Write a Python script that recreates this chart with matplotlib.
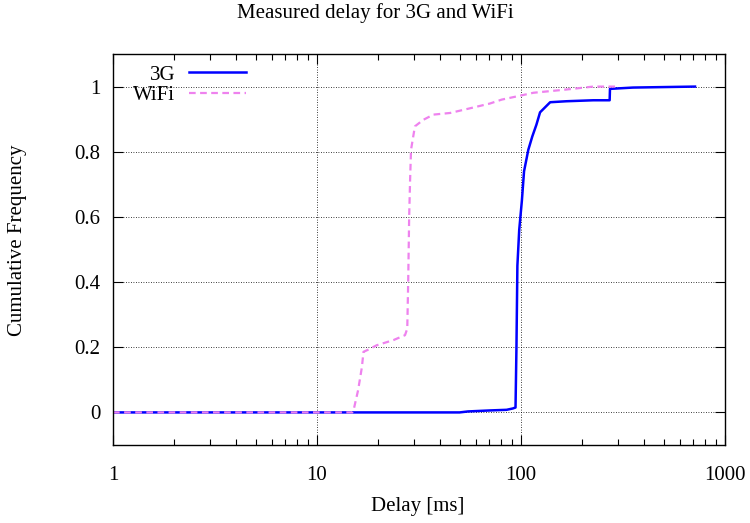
import matplotlib
matplotlib.use("Agg")
import matplotlib.pyplot as plt
from matplotlib.ticker import LogLocator, FixedLocator, NullFormatter

# CDF points (delay in ms, cumulative frequency)
g3_delay = [1, 50, 55, 70, 85, 91, 94, 95, 96, 98, 101, 103.5, 108.6, 113.6,
            119, 124, 139, 167, 226, 272, 273, 354, 713]
g3_cdf = [0, 0, 0.003, 0.006, 0.008, 0.012, 0.015, 0.2, 0.45, 0.56, 0.65, 0.74,
          0.806, 0.847, 0.883, 0.921, 0.952, 0.955, 0.958, 0.958, 0.993, 0.997, 1.0]

wifi_delay = [1, 14.9, 15.1, 15.9, 16.6, 16.9, 17.9, 19.6, 23.7, 27.0, 27.7,
              28.0, 28.3, 28.6, 28.9, 30.2, 33.2, 37.2, 44.9, 54.2, 70.4, 80.4,
              98.9, 115, 167, 226, 289]
wifi_cdf = [0, 0, 0.006, 0.068, 0.139, 0.186, 0.193, 0.206, 0.222, 0.237, 0.257,
            0.406, 0.601, 0.714, 0.806, 0.878, 0.898, 0.914, 0.919, 0.931, 0.948,
            0.960, 0.972, 0.981, 0.991, 1.0, 1.0]

plt.rcParams['font.family'] = ['Liberation Serif', 'DejaVu Serif']
plt.rcParams['font.size'] = 15

fig = plt.figure(figsize=(7.5, 5.23), dpi=100)
ax = fig.add_axes([113 / 750, 1 - 445 / 523, (725 - 113) / 750, (445 - 54) / 523])

ax.plot(g3_delay, g3_cdf, color='#0000ff', lw=1.8, label='3G')
ax.plot(wifi_delay, wifi_cdf, color='#ee82ee', lw=1.6, ls=(0, (3, 2)), label='WiFi')

ax.set_xscale('log')
ax.set_xlim(1, 1000)
ax.set_ylim(-0.1, 1.1)
ax.yaxis.set_major_locator(FixedLocator([0, 0.2, 0.4, 0.6, 0.8, 1]))
ax.set_yticklabels(['0', '0.2', '0.4', '0.6', '0.8', '1'])
ax.xaxis.set_major_locator(FixedLocator([1, 10, 100, 1000]))
ax.set_xticklabels(['1', '10', '100', '1000'])
ax.xaxis.set_minor_locator(LogLocator(base=10, subs=range(2, 10)))
ax.xaxis.set_minor_formatter(NullFormatter())

ax.tick_params(which='both', direction='in', top=True, right=True, width=0.8)
ax.tick_params(which='major', length=7)
ax.tick_params(which='minor', length=4)
ax.tick_params(axis='x', pad=15)
ax.tick_params(axis='y', pad=9)

ax.grid(True, which='major', color='black', ls=(0, (1, 2)), lw=0.6)
for s in ax.spines.values():
    s.set_linewidth(1.0)

fig.text(0.5, 1 - 13 / 523, 'Measured delay for 3G and WiFi', ha='center', va='center')
fig.text(418 / 750, 1 - 507 / 523, 'Delay [ms]', ha='center', va='center')
fig.text(18 / 750, 1 - 240 / 523, 'Cumulative Frequency', ha='center', va='center',
         rotation=90)

ax.legend(loc='upper left', bbox_to_anchor=(0.033, 0.972), markerfirst=False,
          frameon=False, handlelength=2.75, handletextpad=0.67,
          labelspacing=0.05, borderaxespad=0.0, borderpad=0.0)

fig.savefig('out.png', dpi=100)
